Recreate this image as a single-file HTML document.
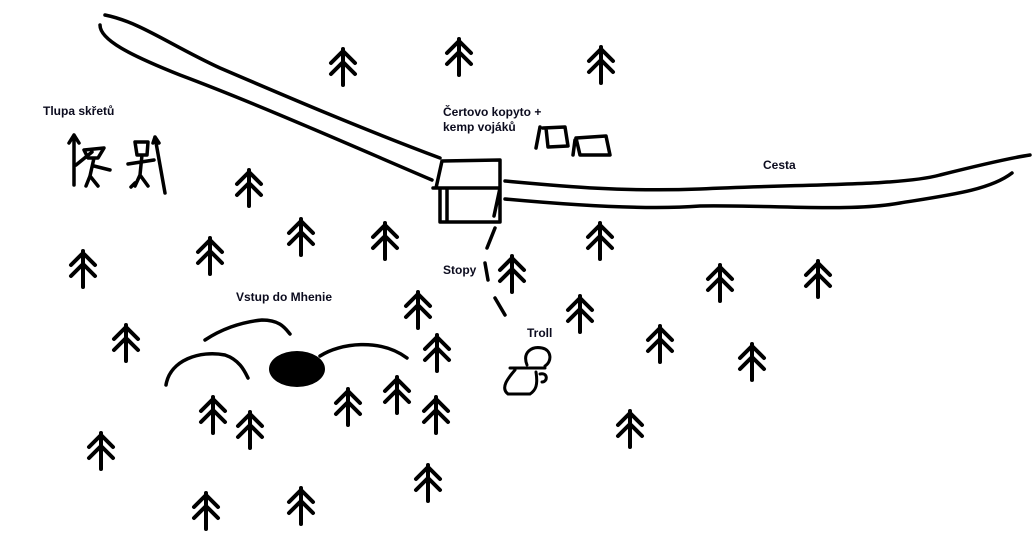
<!DOCTYPE html>
<html><head><style>
body{margin:0;width:1032px;height:550px;background:#fff;overflow:hidden;position:relative}
svg{position:absolute;left:0;top:0}
.t{position:absolute;font-family:"Liberation Sans",sans-serif;font-weight:bold;font-size:12px;color:#0b0b1e;white-space:nowrap;line-height:15px}
</style></head><body>
<svg width="1032" height="550" viewBox="0 0 1032 550" fill="none" stroke="#000" stroke-width="3.5" stroke-linecap="round" stroke-linejoin="round">
<defs><g id="tr"><path d="M0,0 L0,36 M-12,14 L0,2 L12,14 M-12,25 L0,13 L12,25"/></g></defs>
<path d="M105,15 C140,22 170,45 220,68 C290,98 360,128 440,158"/>
<path d="M100,25 C100,40 130,55 180,75 C260,105 350,145 432,180"/>
<path d="M505,181 C560,186 620,192 700,189 C800,184 900,186 940,175 C980,165 1010,158 1030,155"/>
<path d="M505,199 C570,205 650,210 700,206 C780,205 850,212 900,203 C950,195 990,190 1012,173"/>
<path d="M442,161 L500,160 M442,161 L436,188 L500,188 L500,160 M440,188 L440,222 L500,222 L500,188 L494,216 M447,188 L447,222 M433,188 L436,188"/>
<path d="M543,128 L565,127 L568,146 L548,147 L546,128 M540,127 L536,148"/>
<path d="M576,138 L606,136 L610,155 L580,155 L576,138 M575,140 L573,155"/>
<path d="M495,228 L487,248 M485,263 L488,280 M495,298 L505,315" />
<path d="M74,185 L74,135 M69,143 L74,135 L79,143 M76,165 L92,152 M84,150 L104,148 L98,158 L88,158 Z M94,158 L90,176 M90,176 L86,186 M90,176 L98,186 M94,166 L110,170"/>
<path d="M135,142 L148,142 L147,155 L137,155 Z M142,155 L140,175 M128,164 L154,160 M140,175 L135,186 M140,175 L148,186 M131,187 L135,183"/>
<path d="M155,137 L165,193 M153,143 L155,137 L159,143"/>
<path d="M166,385 C170,360 200,350 225,355 C240,360 245,372 248,378"/>
<path d="M205,340 C220,330 240,322 262,320 C280,320 285,328 290,334"/>
<path d="M320,356 C340,343 380,338 407,358"/>
<path d="M527,365 C522,352 532,346 542,348 C552,350 552,362 545,366 M510,368 L545,368 M515,370 C508,378 500,388 508,394 L530,394 C536,390 538,385 536,372 M540,374 C548,372 548,382 542,382" stroke-width="3"/>
<g stroke-width="4">
<use href="#tr" x="343" y="49"/><use href="#tr" x="459" y="39"/><use href="#tr" x="601" y="47"/>
<use href="#tr" x="249" y="170"/><use href="#tr" x="301" y="219"/><use href="#tr" x="385" y="223"/>
<use href="#tr" x="210" y="238"/><use href="#tr" x="83" y="251"/><use href="#tr" x="600" y="223"/>
<use href="#tr" x="512" y="256"/><use href="#tr" x="720" y="265"/><use href="#tr" x="818" y="261"/>
<use href="#tr" x="418" y="292"/><use href="#tr" x="580" y="296"/><use href="#tr" x="126" y="325"/>
<use href="#tr" x="437" y="335"/><use href="#tr" x="660" y="326"/><use href="#tr" x="752" y="344"/>
<use href="#tr" x="348" y="389"/><use href="#tr" x="436" y="397"/><use href="#tr" x="630" y="411"/>
<use href="#tr" x="101" y="433"/><use href="#tr" x="428" y="465"/><use href="#tr" x="206" y="493"/>
<use href="#tr" x="301" y="488"/>
<use href="#tr" x="213" y="397"/><use href="#tr" x="250" y="412"/><use href="#tr" x="397" y="377"/>
</g>
<ellipse cx="297" cy="369" rx="28" ry="18" fill="#000" stroke="none"/>
</svg>
<div class="t" style="left:43px;top:104px">Tlupa skřetů</div>
<div class="t" style="left:443px;top:105px">Čertovo kopyto +<br>kemp vojáků</div>
<div class="t" style="left:763px;top:158px">Cesta</div>
<div class="t" style="left:443px;top:263px">Stopy</div>
<div class="t" style="left:236px;top:290px">Vstup do Mhenie</div>
<div class="t" style="left:527px;top:326px">Troll</div>
</body></html>
